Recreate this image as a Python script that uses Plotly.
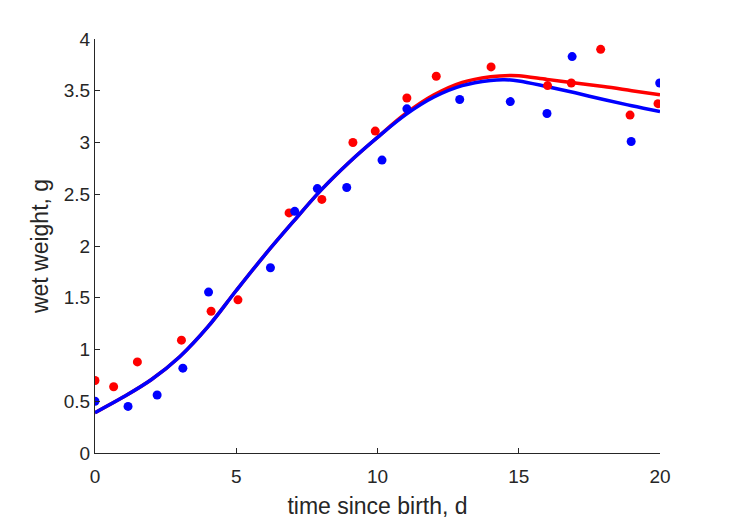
import plotly.graph_objects as go

# Observed data (time since birth, d ; wet weight, g)
red_t = [0, 0.66, 1.5, 3.06, 4.11, 5.06, 6.87, 8.03, 9.13, 9.92, 11.04, 12.08, 14.02, 16.02, 16.86, 17.9, 18.94, 19.93]
red_w = [0.70, 0.64, 0.88, 1.09, 1.37, 1.48, 2.32, 2.45, 3.00, 3.11, 3.43, 3.64, 3.73, 3.55, 3.575, 3.90, 3.265, 3.375]

blue_t = [0, 1.17, 2.2, 3.11, 4.02, 6.21, 7.07, 7.87, 8.91, 10.16, 11.04, 12.91, 14.70, 16.0, 16.89, 18.98, 19.99]
blue_w = [0.50, 0.45, 0.56, 0.82, 1.555, 1.79, 2.335, 2.555, 2.565, 2.83, 3.325, 3.415, 3.395, 3.28, 3.83, 3.01, 3.575]

# Fitted curves
fit_blue_t = [0, 1, 2, 3, 4, 5, 6, 7, 8, 9, 10, 11, 12, 13, 14, 14.5, 15, 16, 17, 18, 19, 20]
fit_blue_w = [0.39, 0.54, 0.71, 0.93, 1.22, 1.57, 1.91, 2.23, 2.54, 2.81, 3.05, 3.27, 3.44, 3.55, 3.60, 3.607, 3.595, 3.54, 3.48, 3.415, 3.355, 3.30]

fit_red_t = [0, 1, 2, 3, 4, 5, 6, 7, 8, 9, 10, 11, 12, 13, 14, 14.7, 15, 16, 17, 18, 19, 20]
fit_red_w = [0.39, 0.54, 0.71, 0.93, 1.22, 1.57, 1.91, 2.23, 2.54, 2.81, 3.05, 3.28, 3.46, 3.58, 3.635, 3.648, 3.645, 3.61, 3.575, 3.54, 3.50, 3.46]

x_ticks = [0, 5, 10, 15, 20]
y_ticks = [0, 0.5, 1, 1.5, 2, 2.5, 3, 3.5, 4]
y_tick_text = ["0", "0.5", "1", "1.5", "2", "2.5", "3", "3.5", "4"]

RED = "#ff0000"
BLUE = "#0000ff"
AX = "#262626"
FONT = "Liberation Sans, Arial, sans-serif"

fig = go.Figure()
fig.add_trace(go.Scatter(x=fit_red_t, y=fit_red_w, mode="lines",
                         line=dict(color=RED, width=3.5, shape="spline", smoothing=1.0),
                         hoverinfo="skip", showlegend=False))
fig.add_trace(go.Scatter(x=fit_blue_t, y=fit_blue_w, mode="lines",
                         line=dict(color=BLUE, width=3.5, shape="spline", smoothing=1.0),
                         hoverinfo="skip", showlegend=False))
fig.add_trace(go.Scatter(x=red_t, y=red_w, mode="markers",
                         marker=dict(color=RED, size=9), showlegend=False))
fig.add_trace(go.Scatter(x=blue_t, y=blue_w, mode="markers",
                         marker=dict(color=BLUE, size=9), showlegend=False))

fig.update_layout(
    width=729, height=521,
    margin=dict(l=87, r=77, t=31, b=76),
    paper_bgcolor="white", plot_bgcolor="white",
    font=dict(family=FONT, color=AX, size=18),
)
fig.update_xaxes(
    range=[0, 20], tickvals=x_ticks, ticktext=[str(v) for v in x_ticks],
    showgrid=False, zeroline=False, showline=True, linecolor=AX, linewidth=1,
    ticks="inside", ticklen=5, tickcolor=AX, tickwidth=1, ticklabelstandoff=6,
    tickfont=dict(size=19, color=AX, family=FONT),
    title=dict(text="time since birth, d", font=dict(size=23, color=AX, family=FONT), standoff=12),
)
fig.update_yaxes(
    range=[0, 4], tickvals=y_ticks, ticktext=y_tick_text,
    showgrid=False, zeroline=False, showline=True, linecolor=AX, linewidth=1,
    ticks="inside", ticklen=5, tickcolor=AX, tickwidth=1,
    tickfont=dict(size=19, color=AX, family=FONT),
    title=dict(text="wet weight, g", font=dict(size=23, color=AX, family=FONT), standoff=8),
)

fig.write_html("out.html")
